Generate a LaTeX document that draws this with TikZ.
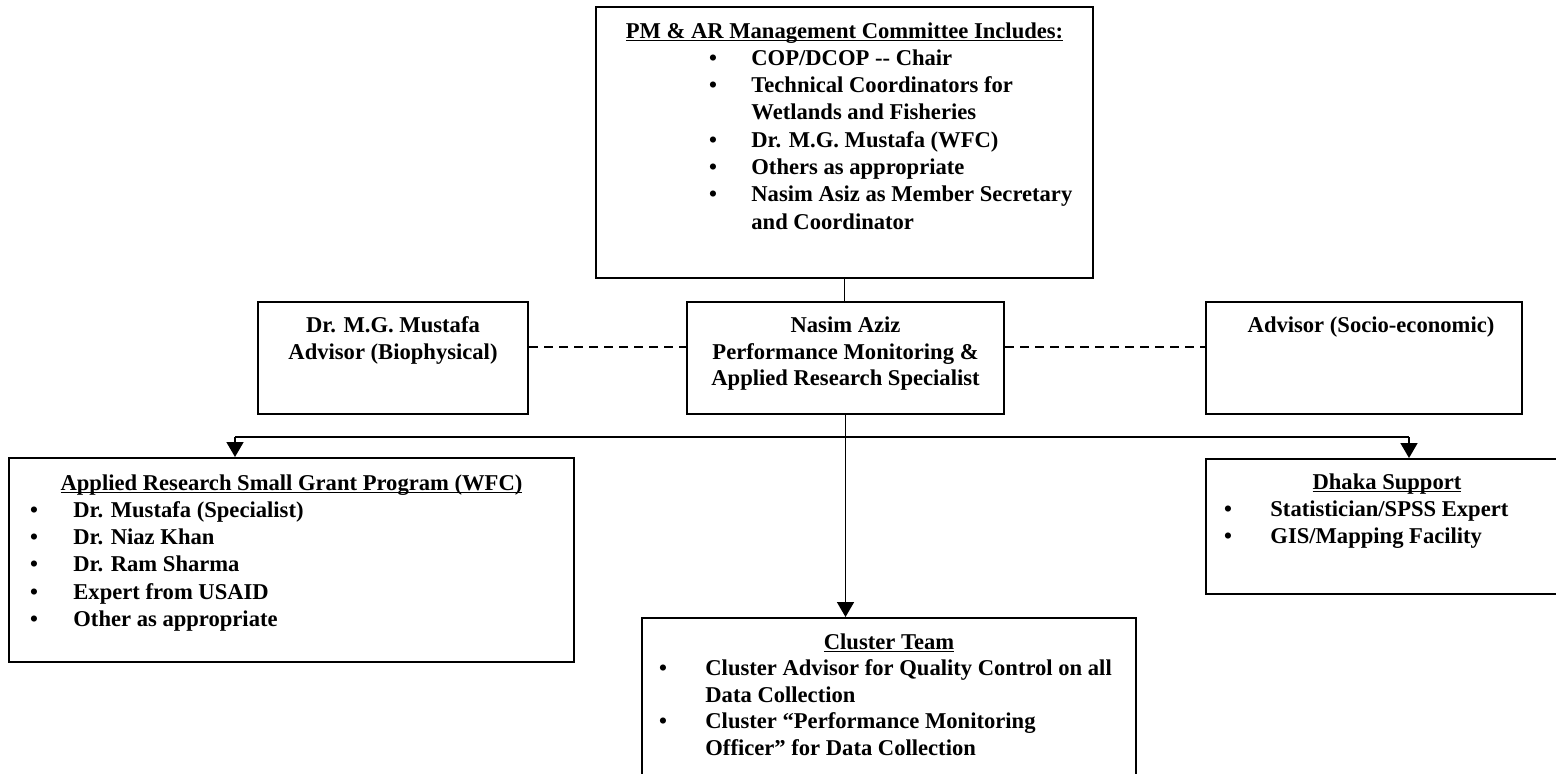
\documentclass[tikz,border=0pt]{standalone}
\usepackage{fontspec}
\setmainfont{Liberation Serif}
\usetikzlibrary{arrows.meta,positioning}
\tikzset{
  caja/.style={draw,line width=1pt,inner sep=0pt},
  txt/.style={inner sep=0pt,font=\fontsize{11.3}{13}\selectfont\bfseries},
  linea/.style={line width=0.8pt},
  flecha/.style={line width=0.8pt,-{Triangle[length=7.5pt,width=8.5pt]}},
  rayas/.style={line width=0.8pt,dash pattern=on 4.5pt off 3pt}
}
\newcommand{\titulo}[1]{\underline{\smash{#1}}}

\begin{document}
\begin{tikzpicture}[x=0.5pt,y=-0.5pt]
\useasboundingbox (0,0) rectangle (1556,773);
\clip (0,0) rectangle (1556,773);
% cajas
\node[caja,minimum width=248.5pt,minimum height=135.5pt] (cmte) at (844.5,142.5) {};
\node[caja,minimum width=135pt,minimum height=56pt] (mustafa) at (393,358) {};
\node[caja,minimum width=158.5pt,minimum height=56pt] (nasim) at (845.5,358) {};
\node[caja,minimum width=158pt,minimum height=56pt] (advisor) at (1364,358) {};
\node[caja,minimum width=282.5pt,minimum height=102pt] (arsg) at (291.5,560) {};
\node[caja,minimum width=181pt,minimum height=67.5pt] (dhaka) at (1387,526.5) {};
\node[caja,minimum width=247pt,minimum height=86pt] (cluster) at (889,704) {};
% comite
\node[txt,anchor=base] (cmteT) at (844.5,38) {\titulo{PM \& AR Management Committee Includes:}};
\foreach \t [count=\i] in {COP/DCOP {-}{-} Chair,Technical Coordinators for,Wetlands and Fisheries,
  Dr. M.G. Mustafa (WFC),Others as appropriate,Nasim Asiz as Member Secretary,and Coordinator}
  \node[txt,anchor=base west] (cmte\i) at (751,{38+27.3*\i}) {\t};
\foreach \i in {1,2,4,5,6}
  \node[txt,anchor=base] (cmteB\i) at (713,{38+27.3*\i}) {\textbullet};
% asesores
\node[txt,anchor=base] (mustafa1) at (393,332.5) {Dr. M.G. Mustafa};
\node[txt,anchor=base] (mustafa2) at (393,359) {Advisor (Biophysical)};
\node[txt,anchor=base] (nasim1) at (845.5,332.5) {Nasim Aziz};
\node[txt,anchor=base] (nasim2) at (845.5,359) {Performance Monitoring \&};
\node[txt,anchor=base] (nasim3) at (845.5,385.5) {Applied Research Specialist};
\node[txt,anchor=base] (advisor1) at (1371,332.5) {Advisor (Socio-economic)};
% programa de becas
\node[txt,anchor=base] (arsgT) at (291.5,490) {\titulo{Applied Research Small Grant Program (WFC)}};
\foreach \t [count=\i] in {Dr. Mustafa (Specialist),Dr. Niaz Khan,Dr. Ram Sharma,Expert from USAID,Other as appropriate}
{
  \node[txt,anchor=base west] (arsg\i) at (73,{490+27.3*\i}) {\t};
  \node[txt,anchor=base] (arsgB\i) at (34,{490+27.3*\i}) {\textbullet};
}
% apoyo Dhaka
\node[txt,anchor=base] (dhakaT) at (1387,489) {\titulo{Dhaka Support}};
\foreach \t [count=\i] in {Statistician/SPSS Expert,GIS/Mapping Facility}
{
  \node[txt,anchor=base west] (dhaka\i) at (1270,{489+27.3*\i}) {\t};
  \node[txt,anchor=base] (dhakaB\i) at (1228,{489+27.3*\i}) {\textbullet};
}
% equipo cluster
\node[txt,anchor=base] (clusterT) at (889,649) {\titulo{Cluster Team}};
\foreach \t [count=\i] in {Cluster Advisor for Quality Control on all,Data Collection,
  Cluster “Performance Monitoring,Officer” for Data Collection}
  \node[txt,anchor=base west] (cluster\i) at (705,{649+26.5*\i}) {\t};
\foreach \i in {1,3}
  \node[txt,anchor=base] (clusterB\i) at (663,{649+26.5*\i}) {\textbullet};
% conectores
\draw[linea] (cmte.south) -- (cmte.south |- nasim.north);
\coordinate (dash) at (0,347);
\draw[rayas] (mustafa.east |- dash) -- (nasim.west |- dash);
\draw[rayas] (nasim.east |- dash) -- (advisor.west |- dash);
\coordinate (izq) at (235,437);
\coordinate (der) at (1409,437);
\draw[linea] (izq) -- (der);
\draw[flecha] (izq) -- (izq |- arsg.north);
\draw[flecha] (der) -- (der |- dhaka.north);
\draw[flecha] (nasim.south) -- (nasim.south |- cluster.north);
\end{tikzpicture}
\end{document}
